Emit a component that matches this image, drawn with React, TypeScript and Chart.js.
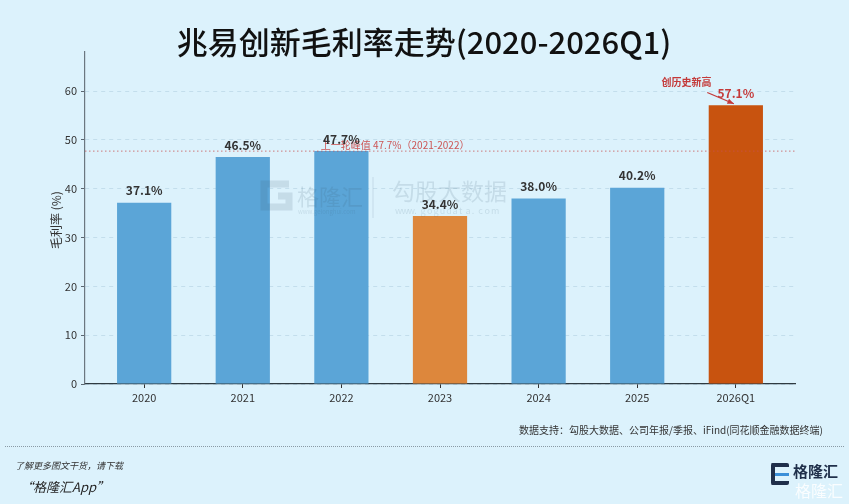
import React, { useEffect, useRef } from "react";
import { Chart, registerables } from "chart.js";

Chart.register(...registerables);

// ---- data ----
const categories = ["2020", "2021", "2022", "2023", "2024", "2025", "2026Q1"];
const grossMargin = [37.1, 46.5, 47.7, 34.4, 38.0, 40.2, 57.1];
const barColors = ["#5ba5d7", "#5ba5d7", "#5ba5d7", "#dd873c", "#5ba5d7", "#5ba5d7", "#c8530f"];
const valueLabelColors = ["#333333", "#333333", "#333333", "#333333", "#333333", "#333333", "#c43a3a"];
const yTicks = [0, 10, 20, 30, 40, 50, 60];
const yMax = 68;
const previousPeak = 47.7;
const peakLabel = "上一轮峰值 47.7%（2021-2022）";
const recordLabel = "创历史新高";
const titleText = "兆易创新毛利率走势(2020-2026Q1)";
const yAxisTitle = "毛利率 (%)";
const sourceNote = "数据支持：勾股大数据、公司年报/季报、iFind(同花顺金融数据终端)";

const FONT = '"Noto Sans CJK SC", "Noto Sans", sans-serif';
const BG = "#dcf2fc";

const overlayPlugin = {
  id: "overlay",
  afterDatasetsDraw(chart: any) {
    const { ctx, chartArea, scales } = chart;
    const xs = scales.x;
    const ys = scales.y;
    ctx.save();

    // watermark
    ctx.globalAlpha = 0.14;
    ctx.fillStyle = "#3a5a70";
    ctx.strokeStyle = "#3a5a70";
    ctx.lineWidth = 7;
    ctx.beginPath();
    ctx.moveTo(289, 184);
    ctx.lineTo(264, 184);
    ctx.lineTo(264, 207);
    ctx.lineTo(289, 207);
    ctx.lineTo(289, 196);
    ctx.lineTo(278, 196);
    ctx.stroke();
    ctx.font = `22px ${FONT}`;
    ctx.textBaseline = "middle";
    ctx.textAlign = "left";
    ctx.fillText("格隆汇", 297, 197);
    ctx.font = `6px ${FONT}`;
    ctx.fillText("www.gelonghui.com", 298, 212);
    ctx.lineWidth = 1;
    ctx.beginPath();
    ctx.moveTo(373, 177);
    ctx.lineTo(373, 218);
    ctx.stroke();
    ctx.font = `23px ${FONT}`;
    ctx.fillText("勾股大数据", 392, 191);
    ctx.font = `9px ${FONT}`;
    const url = "www.gogudata.com";
    for (let i = 0; i < url.length; i++) {
      ctx.fillText(url[i], 395 + i * 6.4, 211);
    }
    ctx.globalAlpha = 1;

    // previous peak reference line
    const py = ys.getPixelForValue(previousPeak);
    ctx.strokeStyle = "rgba(200,80,80,0.75)";
    ctx.lineWidth = 1;
    ctx.setLineDash([1.5, 2.5]);
    ctx.beginPath();
    ctx.moveTo(chartArea.left, py);
    ctx.lineTo(chartArea.right, py);
    ctx.stroke();
    ctx.setLineDash([]);
    ctx.font = `10px ${FONT}`;
    ctx.fillStyle = "#cc5555";
    ctx.textAlign = "left";
    ctx.textBaseline = "middle";
    ctx.fillText(peakLabel, xs.getPixelForValue(1.79), ys.getPixelForValue(previousPeak + 1.3));

    // value labels
    const meta = chart.getDatasetMeta(0);
    meta.data.forEach((bar: any, i: number) => {
      ctx.font = `bold 12px ${FONT}`;
      ctx.fillStyle = valueLabelColors[i];
      ctx.textAlign = "center";
      ctx.textBaseline = "middle";
      ctx.fillText(grossMargin[i].toFixed(1) + "%", bar.x, bar.y - 12);
    });

    // record annotation
    const last = grossMargin.length - 1;
    ctx.font = `bold 10px ${FONT}`;
    ctx.fillStyle = "#c43a3a";
    ctx.textAlign = "center";
    ctx.fillText(recordLabel, xs.getPixelForValue(last - 0.5), ys.getPixelForValue(grossMargin[last] + 4.7));
    const ax1 = xs.getPixelForValue(last - 0.29);
    const ay1 = ys.getPixelForValue(grossMargin[last] + 2.6);
    const ax2 = xs.getPixelForValue(last - 0.02);
    const ay2 = ys.getPixelForValue(grossMargin[last] + 0.3);
    ctx.strokeStyle = "#c43a3a";
    ctx.lineWidth = 1.3;
    ctx.beginPath();
    ctx.moveTo(ax1, ay1);
    ctx.lineTo(ax2, ay2);
    ctx.stroke();
    const ang = Math.atan2(ay2 - ay1, ax2 - ax1);
    ctx.beginPath();
    ctx.moveTo(ax2, ay2);
    ctx.lineTo(ax2 - 7 * Math.cos(ang - 0.4), ay2 - 7 * Math.sin(ang - 0.4));
    ctx.lineTo(ax2 - 7 * Math.cos(ang + 0.4), ay2 - 7 * Math.sin(ang + 0.4));
    ctx.closePath();
    ctx.fill();

    // y axis title
    ctx.save();
    ctx.translate(56, (chartArea.top + chartArea.bottom) / 2 + 2);
    ctx.rotate(-Math.PI / 2);
    ctx.font = `12px ${FONT}`;
    ctx.fillStyle = "#333333";
    ctx.textAlign = "center";
    ctx.textBaseline = "middle";
    ctx.fillText(yAxisTitle, 0, 0);
    ctx.restore();

    // title
    ctx.font = `500 31px ${FONT}`;
    ctx.fillStyle = "#111111";
    ctx.textAlign = "center";
    ctx.textBaseline = "middle";
    ctx.fillText(titleText, 424, 42);

    ctx.restore();
  },
};

export default function App() {
  const canvasRef = useRef<HTMLCanvasElement | null>(null);

  useEffect(() => {
    document.body.style.margin = "0";
    const canvas = canvasRef.current;
    if (!canvas) return;
    const chart = new Chart(canvas, {
      type: "bar",
      data: {
        datasets: [
          {
            data: grossMargin.map((v, i) => ({ x: i, y: v })),
            backgroundColor: barColors,
            borderWidth: 0,
            barPercentage: 0.55,
            categoryPercentage: 1,
          },
        ],
      },
      options: {
        animation: false,
        responsive: false,
        devicePixelRatio: window.devicePixelRatio || 1,
        layout: { padding: { left: 0, top: 52, right: 54, bottom: 0 } },
        plugins: { legend: { display: false }, tooltip: { enabled: false }, title: { display: false } },
        scales: {
          x: {
            type: "linear",
            offset: false,
            min: -0.6,
            max: categories.length - 0.4,
            afterBuildTicks: (scale: any) => {
              scale.ticks = categories.map((_, i) => ({ value: i }));
            },
            afterFit: (scale: any) => {
              scale.height = 120;
            },
            ticks: {
              autoSkip: false,
              maxRotation: 0,
              padding: 3,
              color: "#333333",
              font: { family: FONT, size: 11 },
              callback: (v: any) => categories[Math.round(Number(v))] ?? "",
            },
            grid: {
              display: true,
              offset: false,
              drawOnChartArea: false,
              drawTicks: true,
              tickLength: 4,
              tickColor: "#333333",
            },
            border: { display: true, color: "#2f3a40", width: 1.2 },
          },
          y: {
            min: 0,
            max: yMax,
            afterBuildTicks: (scale: any) => {
              scale.ticks = yTicks.map((v) => ({ value: v }));
            },
            afterFit: (scale: any) => {
              scale.width = 85;
            },
            ticks: {
              padding: 4,
              color: "#333333",
              font: { family: FONT, size: 11 },
            },
            grid: {
              display: true,
              drawOnChartArea: true,
              color: "rgba(150,185,205,0.35)",
              lineWidth: 1,
              drawTicks: true,
              tickLength: 4,
              tickColor: "#5a6670",
            },
            border: { display: true, color: "#6b7780", width: 1.2, dash: [4, 4] },
          },
        },
      },
      plugins: [overlayPlugin],
    } as any);
    return () => chart.destroy();
  }, []);

  return (
    <div
      style={{
        position: "absolute",
        left: 0,
        top: 0,
        width: 849,
        height: 504,
        background: BG,
        overflow: "hidden",
        fontFamily: FONT,
      }}
    >
      <canvas ref={canvasRef} width={849} height={504} style={{ position: "absolute", left: 0, top: 0, width: 849, height: 504 }} />
      <div
        style={{
          position: "absolute",
          right: 26,
          top: 422,
          fontSize: 10,
          color: "#333",
          whiteSpace: "nowrap",
        }}
      >
        {sourceNote}
      </div>
      <div
        style={{
          position: "absolute",
          left: 5,
          right: 5,
          top: 446,
          borderTop: "1.5px dotted #8a9aa5",
        }}
      />
      <div style={{ position: "absolute", left: 15, top: 459, fontSize: 9, fontStyle: "italic", color: "#333", whiteSpace: "nowrap" }}>
        了解更多图文干货，请下载
      </div>
      <div style={{ position: "absolute", left: 20, top: 477, fontSize: 13, fontStyle: "italic", color: "#222", whiteSpace: "nowrap" }}>
        “格隆汇App”
      </div>
      <div
        style={{
          position: "absolute",
          left: 771,
          top: 463,
          width: 14,
          height: 14,
          border: "4px solid #1f2f4a",
          borderRight: "none",
          borderRadius: 2,
        }}
      />
      <div style={{ position: "absolute", left: 775, top: 473, width: 14, height: 3, background: "#3a8fd8" }} />
      <div style={{ position: "absolute", left: 793, top: 460, fontSize: 15, fontWeight: 700, color: "#1f2f4a", whiteSpace: "nowrap" }}>
        格隆汇
      </div>
      <div style={{ position: "absolute", left: 795, top: 478, fontSize: 16, color: "rgba(255,255,255,0.85)", whiteSpace: "nowrap" }}>
        格隆汇
      </div>
    </div>
  );
}
